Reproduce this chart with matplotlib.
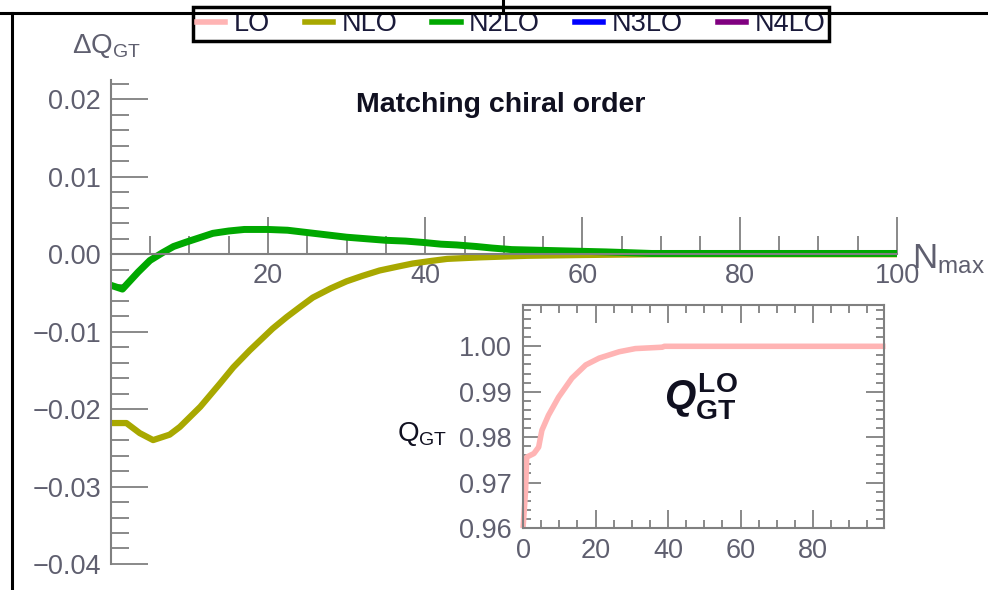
import matplotlib
matplotlib.use("Agg")
import matplotlib.pyplot as plt
from matplotlib.lines import Line2D
import numpy as np

plt.rcParams['font.family'] = ['Liberation Sans', 'DejaVu Sans']
plt.rcParams['mathtext.fontset'] = 'custom'
plt.rcParams['mathtext.rm'] = 'Liberation Sans'
plt.rcParams['mathtext.bf'] = 'Liberation Sans:bold'
plt.rcParams['mathtext.it'] = 'Liberation Sans:bold:italic'

# NLO - difference to converged value, main panel
NLO_N = [0, 2, 3.7, 5.4, 7.5, 8.8, 11.4, 13.9, 15.6, 17.7, 20.6, 22.4, 24.1,
         25.7, 28, 30, 32, 34.2, 36.5, 38.4, 40.5, 42.8, 47, 53, 60, 68.8, 100]
NLO_DQ = [-0.0218, -0.0218, -0.0231, -0.0240, -0.0233, -0.0223, -0.0197,
          -0.0167, -0.0146, -0.0124, -0.0096, -0.0081, -0.0068, -0.0056,
          -0.0044, -0.0035, -0.0028, -0.0021, -0.0016, -0.0012, -0.0009,
          -0.0006, -0.0004, -0.0002, -0.0001, 0.0, 0.0]

# N2LO
N2LO_N = [0, 1.5, 3.5, 5, 6.6, 8, 9.7, 11.5, 13, 15, 17, 20, 22.5, 25, 27.5,
          30, 32.5, 35, 37.5, 40, 42, 44, 46.5, 48.5, 51, 55, 59, 63, 68.8,
          75, 85, 100]
N2LO_DQ = [-0.0040, -0.0045, -0.0023, -0.0008, 0.0002, 0.0010, 0.0016, 0.0022,
           0.0027, 0.0030, 0.0032, 0.0032, 0.0031, 0.0028, 0.0025, 0.0022,
           0.0020, 0.0018, 0.0017, 0.0015, 0.0013, 0.0012, 0.0010, 0.0008,
           0.0006, 0.0005, 0.0004, 0.0003, 0.0001, 0.0001, 0.0001, 0.0001]

# LO absolute value, inset
LO_N = [0, 0.7, 1, 3, 4.3, 5.2, 7, 9.8, 13.5, 17.3, 21, 26.5, 31, 38.4, 39, 100]
LO_Q = [0.960, 0.9683, 0.9756, 0.9764, 0.9778, 0.9815, 0.9848, 0.9888,
        0.9930, 0.9959, 0.9974, 0.9988, 0.9995, 0.9998, 1.0000, 1.0000]

LEGEND_LABELS = ["LO", "NLO", "N2LO", "N3LO", "N4LO"]
COLOURS = ['#ffb4b4', '#a8a800', '#00a800', '#0000ff', '#800080']

X_TICKS = [20, 40, 60, 80, 100]
Y_TICKS = [-0.04, -0.03, -0.02, -0.01, 0.0, 0.01, 0.02]
Y_LABELS = ["\u22120.04", "\u22120.03", "\u22120.02", "\u22120.01",
            "0.00", "0.01", "0.02"]
INSET_X_TICKS = [0, 20, 40, 60, 80]
INSET_Y_TICKS = [0.96, 0.97, 0.98, 0.99, 1.00]
INSET_Y_LABELS = ["0.96", "0.97", "0.98", "0.99", "1.00"]

GREY = '#808080'
LABEL_GREY = '#5f5f6f'
FS = 19.5


def main():
    fig = plt.figure(figsize=(9.88, 5.9), dpi=100)
    ax = fig.add_axes([0.1120, 0.0441, 0.7959, 0.8203])
    plot_main(fig, ax)
    ax_in = fig.add_axes([0.5294, 0.1051, 0.3654, 0.378])
    plot_inset(ax_in)
    add_frame(fig)
    add_legend(fig, ax)
    fig.savefig("out.png", dpi=100)


def plot_main(fig, ax):
    ax.set_xlim(0, 100)
    ax.set_ylim(-0.04, 0.0225)
    ax.plot(NLO_N, NLO_DQ, color=COLOURS[1], lw=4.5, solid_capstyle='butt')
    ax.plot(N2LO_N, N2LO_DQ, color=COLOURS[2], lw=5, solid_capstyle='butt')

    for side in ('top', 'right'):
        ax.spines[side].set_visible(False)
    ax.spines['left'].set_position(('data', 0))
    ax.spines['bottom'].set_position(('data', 0))
    for side in ('left', 'bottom'):
        ax.spines[side].set_color(GREY)
        ax.spines[side].set_linewidth(1.5)

    ax.set_xticks(X_TICKS)
    ax.set_xticklabels([str(t) for t in X_TICKS])
    ax.set_xticks([m for m in np.arange(5, 100, 5) if m % 20], minor=True)
    ax.set_yticks(Y_TICKS)
    ax.set_yticklabels(Y_LABELS)
    ax.set_yticks([m for m in np.arange(-0.038, 0.0225, 0.002)], minor=True)

    ax.tick_params(which='major', direction='in', length=26.5, width=1.3,
                   color=GREY, labelsize=FS, labelcolor=LABEL_GREY)
    ax.tick_params(which='minor', direction='in', length=13, width=1.3,
                   color=GREY)
    ax.tick_params(axis='x', which='major', pad=6)
    ax.tick_params(axis='y', which='major', pad=7)

    ax.text(0.496, 0.948, "Matching chiral order", transform=ax.transAxes,
            ha='center', va='center', fontsize=20.5, fontweight='bold',
            color='#101020')
    fig.text(72 / 988, 1 - 53 / 590, "\u0394Q$_{\\mathrm{GT}}$",
             fontsize=20, color=LABEL_GREY, va='baseline', ha='left')
    fig.text(912 / 988, 1 - 268 / 590, "N$_{\\mathrm{max}}$",
             fontsize=25, color=LABEL_GREY, va='baseline', ha='left')


def plot_inset(ax):
    ax.set_xlim(0, 99.6)
    ax.set_ylim(0.96, 1.0091)
    ax.plot(LO_N, LO_Q, color=COLOURS[0], lw=4, solid_capstyle='butt',
            clip_on=False)
    for side in ax.spines.values():
        side.set_color(GREY)
        side.set_linewidth(1.5)

    ax.set_xticks(INSET_X_TICKS)
    ax.set_xticklabels([str(t) for t in INSET_X_TICKS])
    ax.set_xticks([m for m in np.arange(5, 100, 5) if m % 20], minor=True)
    ax.set_yticks(INSET_Y_TICKS)
    ax.set_yticklabels(INSET_Y_LABELS)
    ax.set_yticks(np.arange(0.962, 1.009, 0.002), minor=True)
    ax.tick_params(which='both', direction='in', top=True, right=True,
                   color=GREY, width=1.3)
    ax.tick_params(which='major', length=13, labelsize=FS,
                   labelcolor=LABEL_GREY)
    ax.tick_params(which='minor', length=6)
    ax.tick_params(axis='x', which='major', pad=7)
    ax.tick_params(axis='y', which='major', pad=8)

    ax.text(-0.21, 0.42, "Q$_{\\mathrm{GT}}$", transform=ax.transAxes,
            ha='right', va='center', fontsize=20, color='#101020')
    ax.text(0.39, 0.59, "$Q^{\\mathbf{LO}}_{\\mathbf{GT}}$",
            transform=ax.transAxes, ha='left', va='center', fontsize=29,
            color='#101020')


def add_frame(fig):
    top = 1 - 13 / 590
    left = 12 / 988
    fig.add_artist(Line2D([0, 1], [top, top], color='black', lw=2.2,
                          transform=fig.transFigure, zorder=1))
    fig.add_artist(Line2D([left, left], [0, top], color='black', lw=2.2,
                          transform=fig.transFigure, zorder=1))
    fig.add_artist(Line2D([503 / 988, 503 / 988], [top, 1], color='black',
                          lw=2.2, transform=fig.transFigure, zorder=1))


def add_legend(fig, ax):
    handles = [Line2D([], [], color=c, lw=4) for c in COLOURS]
    leg = ax.legend(handles, LEGEND_LABELS, ncol=5, loc='center',
                    bbox_to_anchor=(511 / 988, 1 - 24 / 590),
                    bbox_transform=fig.transFigure, fontsize=FS,
                    frameon=True, fancybox=False, framealpha=1,
                    edgecolor='black', handlelength=1.05, handletextpad=0.3,
                    columnspacing=1.3, borderpad=0.15)
    leg.get_frame().set_linewidth(2.5)
    leg.set_zorder(5)
    for t in leg.get_texts():
        t.set_color('#1a1a3a')


if __name__ == "__main__":
    main()
